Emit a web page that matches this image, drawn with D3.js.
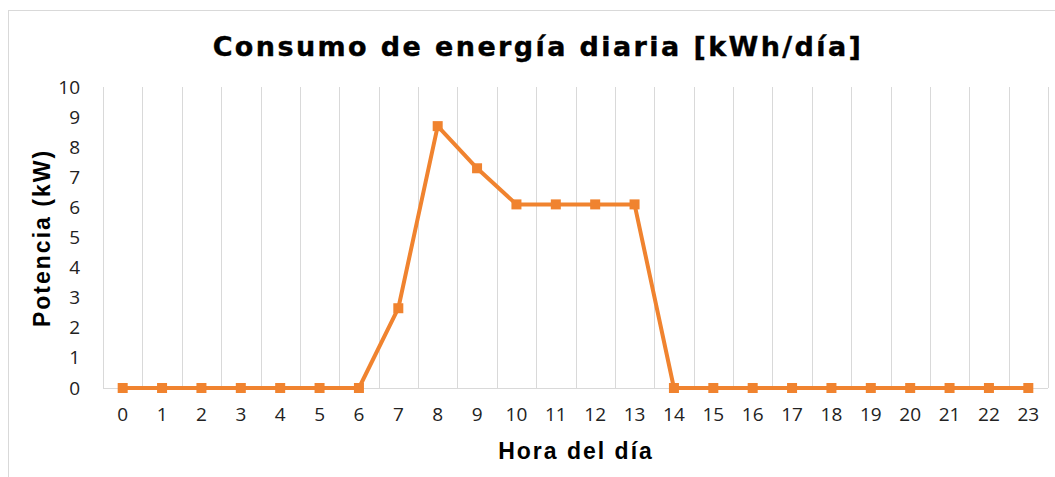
<!DOCTYPE html>
<html>
<head>
<meta charset="utf-8">
<script src="https://cdn.jsdelivr.net/npm/d3@7"></script>
<style>
  body { margin: 0; background: #fff; }
  svg { display: block; }
</style>
</head>
<body>
<div id="chart"></div>
<script>
// hours 0..23 and power per hour (kW)
const hours = d3.range(0, 24).map(String);
const potencia = [0, 0, 0, 0, 0, 0, 0, 2.65, 8.7, 7.3, 6.1, 6.1, 6.1, 6.1,
                  0, 0, 0, 0, 0, 0, 0, 0, 0, 0];
const yTicks = [0, 1, 2, 3, 4, 5, 6, 7, 8, 9, 10];

const width = 1055, height = 477;
const margin = { top: 87, right: 7, bottom: 89, left: 103 };
const innerW = width - margin.left - margin.right;
const innerH = height - margin.top - margin.bottom;

const svg = d3.select("#chart").append("svg")
  .attr("width", width)
  .attr("height", height);

// chart frame
svg.append("rect")
  .attr("x", 8.5).attr("y", 10.5)
  .attr("width", width + 10).attr("height", height + 10)
  .attr("fill", "none")
  .attr("stroke", "#d9d9d9");

const g = svg.append("g")
  .attr("transform", "translate(" + margin.left + "," + margin.top + ")");

const x = d3.scaleBand().domain(hours).range([0, innerW]);
const y = d3.scaleLinear().domain([0, 10]).range([innerH, 0]);

// vertical gridlines at category boundaries
g.append("g")
  .selectAll("line")
  .data(d3.range(0, hours.length + 1))
  .join("line")
  .attr("x1", i => Math.round(i * x.step()) + 0.5)
  .attr("x2", i => Math.round(i * x.step()) + 0.5)
  .attr("y1", 0)
  .attr("y2", innerH)
  .attr("stroke", "#d9d9d9");

// bottom axis line
g.append("line")
  .attr("x1", 0).attr("x2", innerW)
  .attr("y1", innerH + 0.5).attr("y2", innerH + 0.5)
  .attr("stroke", "#d9d9d9");

// x axis labels
const xAxis = g.append("g")
  .attr("transform", "translate(0," + innerH + ")")
  .call(d3.axisBottom(x).tickSize(0).tickPadding(20));
xAxis.select(".domain").remove();
xAxis.selectAll("text")
  .attr("font-family", "'Open Sans', sans-serif")
  .attr("font-size", 19)
  .attr("fill", "#222");

// y axis labels
const yAxis = g.append("g")
  .call(d3.axisLeft(y).tickValues(yTicks).tickSize(0).tickPadding(23));
yAxis.select(".domain").remove();
yAxis.selectAll("text")
  .attr("font-family", "'Open Sans', sans-serif")
  .attr("font-size", 19)
  .attr("fill", "#222");

// line
const line = d3.line()
  .x((d, i) => x(hours[i]) + x.bandwidth() / 2)
  .y(d => y(d));

g.append("path")
  .datum(potencia)
  .attr("d", line)
  .attr("fill", "none")
  .attr("stroke", "#F0832F")
  .attr("stroke-width", 4)
  .attr("stroke-linejoin", "round");

// square markers
const ms = 10;
g.append("g")
  .selectAll("rect")
  .data(potencia)
  .join("rect")
  .attr("x", (d, i) => x(hours[i]) + x.bandwidth() / 2 - ms / 2)
  .attr("y", d => y(d) - ms / 2)
  .attr("width", ms)
  .attr("height", ms)
  .attr("fill", "#F0832F");

// titles
svg.append("text")
  .attr("x", 538).attr("y", 56)
  .attr("text-anchor", "middle")
  .attr("font-family", "'DejaVu Sans', sans-serif")
  .attr("font-weight", "bold")
  .attr("font-size", 27)
  .attr("letter-spacing", 2.4)
  .attr("stroke", "#000")
  .attr("stroke-width", 0.4)
  .attr("fill", "#000")
  .text("Consumo de energía diaria [kWh/día]");

svg.append("text")
  .attr("x", 576).attr("y", 459)
  .attr("text-anchor", "middle")
  .attr("font-family", "'Liberation Sans', Arial, sans-serif")
  .attr("font-weight", "bold")
  .attr("font-size", 23)
  .attr("letter-spacing", 2)
  .attr("fill", "#000")
  .text("Hora del día");

svg.append("text")
  .attr("transform", "translate(50," + 238 + ") rotate(-90)")
  .attr("text-anchor", "middle")
  .attr("font-family", "'Liberation Sans', Arial, sans-serif")
  .attr("font-weight", "bold")
  .attr("font-size", 23)
  .attr("letter-spacing", 2)
  .attr("fill", "#000")
  .text("Potencia (kW)");
</script>
</body>
</html>
